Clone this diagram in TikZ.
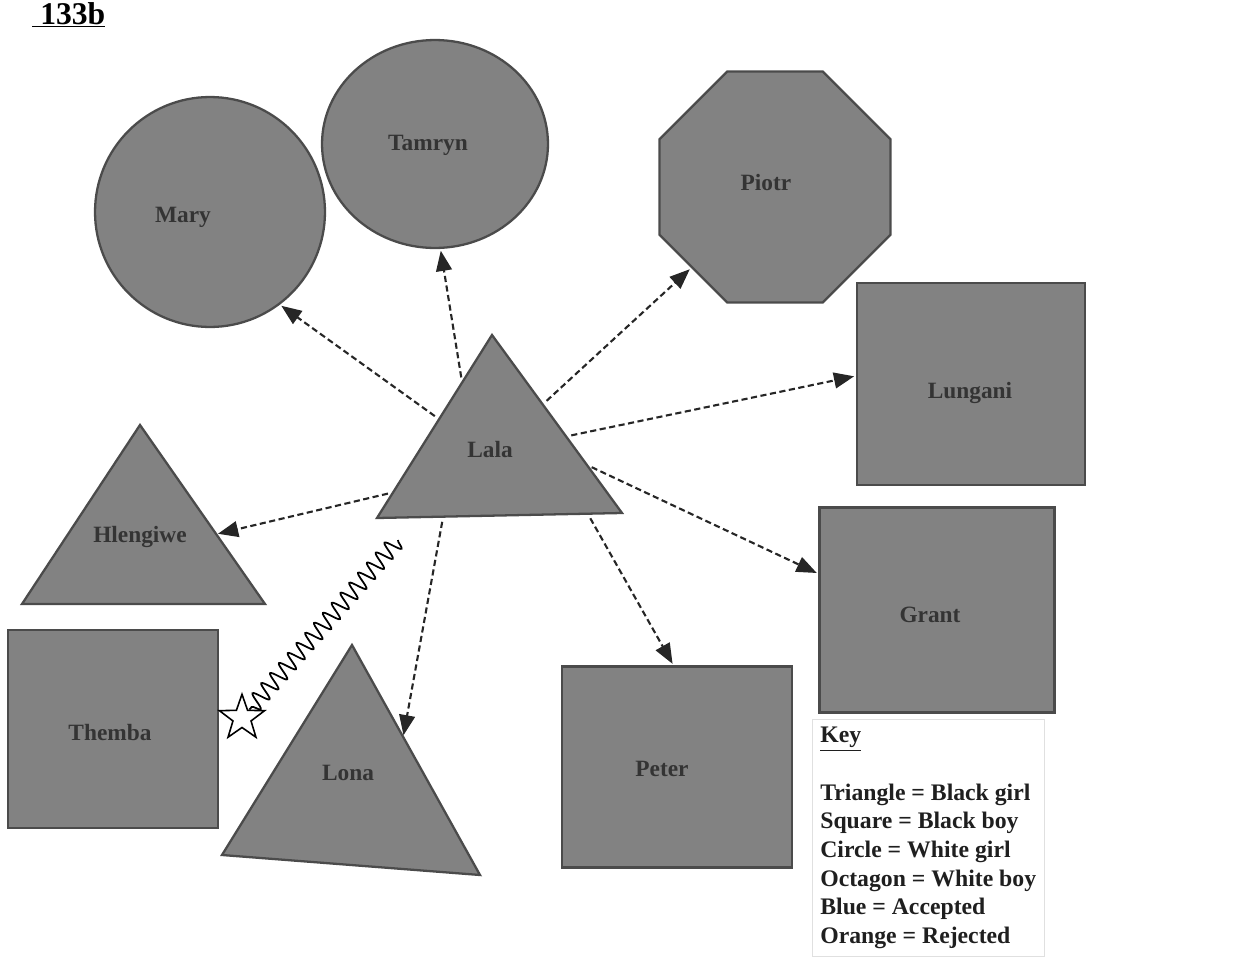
\documentclass[tikz,border=0pt]{standalone}
\usepackage{fontspec}
\setmainfont{Liberation Serif}
\usetikzlibrary{shapes.geometric}
\usetikzlibrary{arrows.meta}
\usetikzlibrary{calc}
\usetikzlibrary{decorations.pathmorphing}
\definecolor{kidfill}{RGB}{130,130,130}
\definecolor{kidline}{RGB}{75,75,75}
\definecolor{kidtext}{RGB}{52,52,52}
\tikzset{
  kid/.style={draw=kidline,fill=kidfill,line width=1.3pt},
  who/.style={text=kidtext,font=\fontsize{13.3}{16}\selectfont\bfseries,inner sep=1pt},
  link/.style={black!85,line width=1.2pt,dash pattern=on 3.5pt off 2pt,-{Triangle[length=11.5pt,width=9pt]},shorten <=3pt,shorten >=1pt},
  reject/.style={black,line width=1pt,decorate,decoration={snake,segment length=7.6pt,amplitude=4.8pt}}
}
\begin{document}
\begin{tikzpicture}[x=0.02cm,y=-0.02cm]
  \useasboundingbox (0,0) rectangle (1242,974);
  \node[anchor=base west,inner sep=0pt,font=\fontsize{18}{20}\selectfont\bfseries] (title) at (32,24) {\underline{\ 133b}};

  \node[kid,circle,minimum size=4.6cm] (mary) at (210,212) {};
  \node[kid,ellipse,minimum width=4.52cm,minimum height=4.16cm] (tamryn) at (435,144) {};
  \node[kid,regular polygon,regular polygon sides=8,minimum size=5cm] (piotr) at (775,187) {};
  \node[kid,minimum width=4.56cm,minimum height=4.04cm] (lungani) at (971,384) {};
  \node[kid,minimum width=4.7cm,minimum height=4.1cm] (grant) at (937,610) {};
  \node[kid,minimum width=4.6cm,minimum height=4.02cm] (peter) at (677,767) {};
  \node[kid,minimum width=4.2cm,minimum height=3.96cm] (themba) at (113,729) {};

  \coordinate (lala-t) at (492,335);
  \coordinate (lala-l) at (377,518);
  \coordinate (lala-r) at (622,513);
  \draw[kid] (lala-t) -- (lala-r) -- (lala-l) -- cycle;
  \coordinate (hlengiwe-t) at (140,425);
  \coordinate (hlengiwe-l) at (22,604);
  \coordinate (hlengiwe-r) at (265,604);
  \draw[kid] (hlengiwe-t) -- (hlengiwe-r) -- (hlengiwe-l) -- cycle;
  \coordinate (lona-t) at (352,645);
  \coordinate (lona-l) at (222,855);
  \coordinate (lona-r) at (480,875);
  \draw[kid] (lona-t) -- (lona-r) -- (lona-l) -- cycle;

  \node[who] (mary-name) at (183,217) {Mary};
  \node[who] (tamryn-name) at (428,145) {Tamryn};
  \node[who] (piotr-name) at (766,183) {Piotr};
  \node[who] (lungani-name) at (970,393) {Lungani};
  \node[who] (lala-name) at (490,450) {Lala};
  \node[who] (hlengiwe-name) at (140,537) {Hlengiwe};
  \node[who] (grant-name) at (930,615) {Grant};
  \node[who] (themba-name) at (110,733) {Themba};
  \node[who] (lona-name) at (348,773) {Lona};
  \node[who] (peter-name) at (662,769) {Peter};

  \draw[link] ($(lala-t)!.46!(lala-l)$) -- (mary.-53);
  \draw[link] ($(lala-t)!.26!(lala-l)$) -- (tamryn.-87);
  \draw[link] ($(lala-t)!.39!(lala-r)$) -- (piotr.-136);
  \draw[link] ($(lala-t)!.57!(lala-r)$) -- (lungani.176);
  \draw[link] ($(lala-t)!.73!(lala-r)$) -- (grant.163);
  \draw[link] ($(lala-l)!.86!(lala-r)$) -- (peter.92);
  \draw[link] ($(lala-l)!.27!(lala-r)$) -- ($(lona-t)!.4!(lona-r)$);
  \draw[link] ($(lala-t)!.86!(lala-l)$) -- ($(hlengiwe-t)!.61!(hlengiwe-r)$);

  \node[star,star points=5,star point ratio=2.5,draw,fill=white,line width=0.9pt,minimum size=0.95cm,inner sep=0pt] (star) at (242,718) {};
  \coordinate (zig) at (398,540);
  \draw[reject] (zig) -- (star);

  \node[anchor=north west,draw=black!12,fill=white,inner sep=0.16cm,align=left,text=black!88,font=\fontsize{13.5}{16.3}\selectfont\bfseries] (key) at (812,719) {\underline{Key}\\[16.3pt]
    Triangle = Black girl\\
    Square = Black boy\\
    Circle = White girl\\
    Octagon = White boy\\
    Blue = Accepted\\
    Orange = Rejected};
\end{tikzpicture}
\end{document}
